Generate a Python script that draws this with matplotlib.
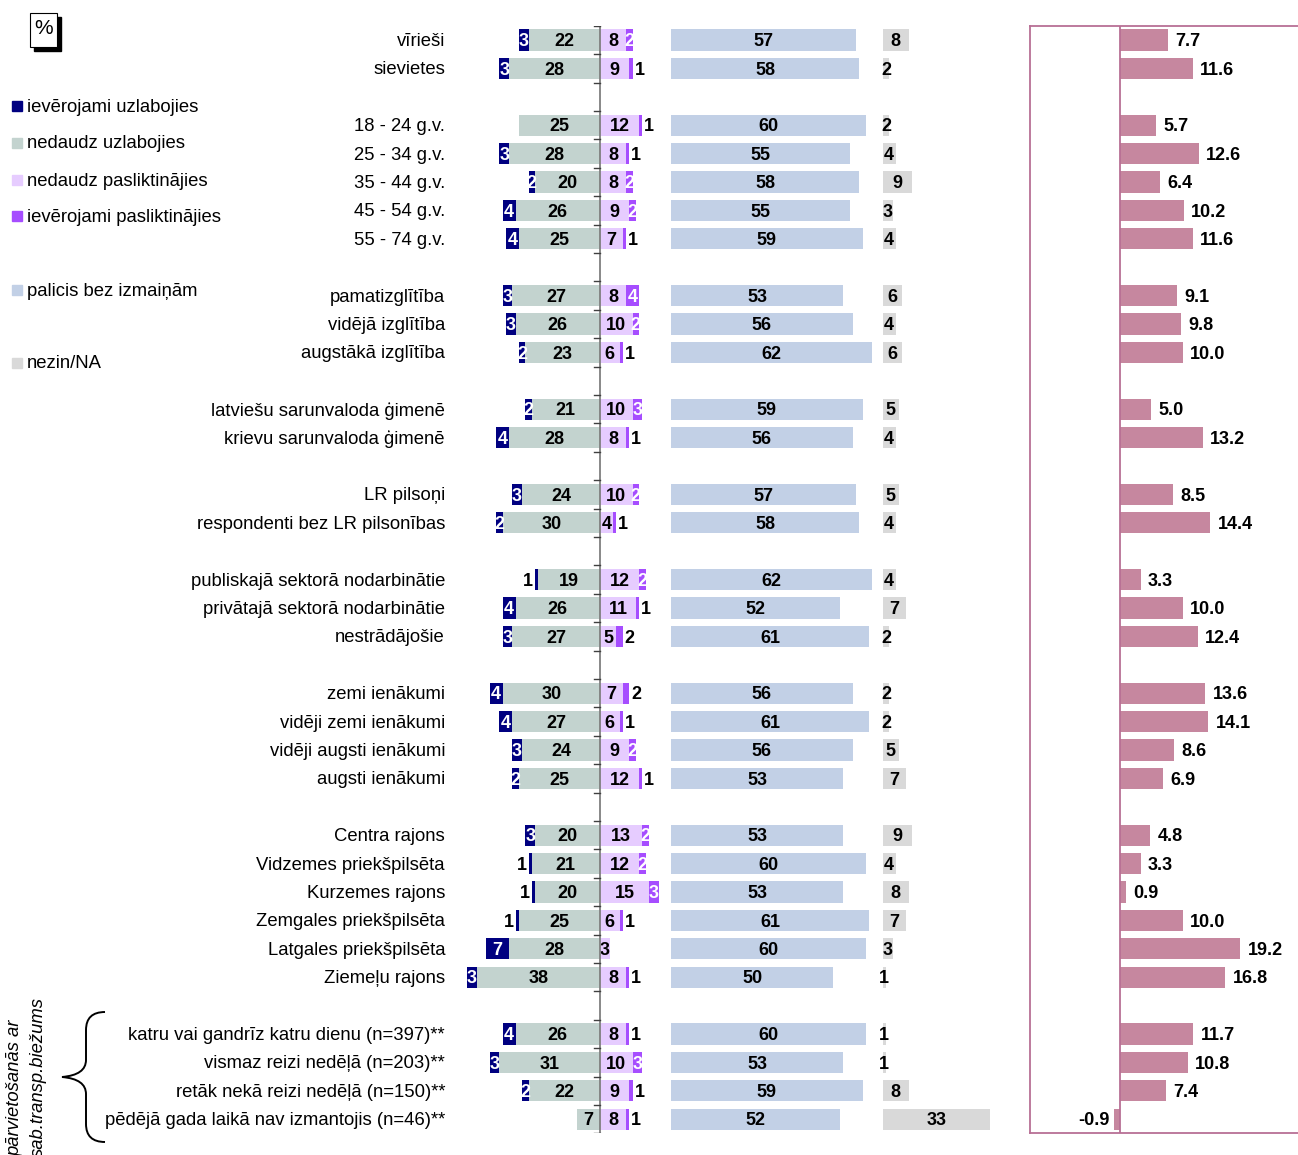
import matplotlib
matplotlib.use('Agg')
import matplotlib.pyplot as plt
from matplotlib.patches import Rectangle, PathPatch
from matplotlib.path import Path

plt.rcParams['font.family'] = ['Liberation Sans', 'DejaVu Sans']

W, H = 1298, 1155

# ── Data ──────────────────────────────────────────────────
labels = [
    'vīrieši', 'sievietes', None,
    '18 - 24 g.v.', '25 - 34 g.v.', '35 - 44 g.v.', '45 - 54 g.v.', '55 - 74 g.v.', None,
    'pamatizglītība', 'vidējā izglītība', 'augstākā izglītība', None,
    'latviešu sarunvaloda ģimenē', 'krievu sarunvaloda ģimenē', None,
    'LR pilsoņi', 'respondenti bez LR pilsonības', None,
    'publiskajā sektorā nodarbinātie', 'privātajā sektorā nodarbinātie', 'nestrādājošie', None,
    'zemi ienākumi', 'vidēji zemi ienākumi', 'vidēji augsti ienākumi', 'augsti ienākumi', None,
    'Centra rajons', 'Vidzemes priekšpilsēta', 'Kurzemes rajons', 'Zemgales priekšpilsēta',
    'Latgales priekšpilsēta', 'Ziemeļu rajons', None,
    'katru vai gandrīz katru dienu (n=397)**', 'vismaz reizi nedēļā (n=203)**',
    'retāk nekā reizi nedēļā (n=150)**', 'pēdējā gada laikā nav izmantojis (n=46)**',
]
much_better = [3, 3, None, 0, 3, 2, 4, 4, None, 3, 3, 2, None, 2, 4, None, 3, 2, None,
               1, 4, 3, None, 4, 4, 3, 2, None, 3, 1, 1, 1, 7, 3, None, 4, 3, 2, 0]
bit_better = [22, 28, None, 25, 28, 20, 26, 25, None, 27, 26, 23, None, 21, 28, None, 24, 30, None,
              19, 26, 27, None, 30, 27, 24, 25, None, 20, 21, 20, 25, 28, 38, None, 26, 31, 22, 7]
bit_worse = [8, 9, None, 12, 8, 8, 9, 7, None, 8, 10, 6, None, 10, 8, None, 10, 4, None,
             12, 11, 5, None, 7, 6, 9, 12, None, 13, 12, 15, 6, 3, 8, None, 8, 10, 9, 8]
much_worse = [2, 1, None, 1, 1, 2, 2, 1, None, 4, 2, 1, None, 3, 1, None, 2, 1, None,
              2, 1, 2, None, 2, 1, 2, 1, None, 2, 2, 3, 1, 0, 1, None, 1, 3, 1, 1]
unchanged = [57, 58, None, 60, 55, 58, 55, 59, None, 53, 56, 62, None, 59, 56, None, 57, 58, None,
             62, 52, 61, None, 56, 61, 56, 53, None, 53, 60, 53, 61, 60, 50, None, 60, 53, 59, 52]
dont_know = [8, 2, None, 2, 4, 9, 3, 4, None, 6, 4, 6, None, 5, 4, None, 5, 4, None,
             4, 7, 2, None, 2, 2, 5, 7, None, 9, 4, 8, 7, 3, 1, None, 1, 1, 8, 33]
balance = [7.7, 11.6, None, 5.7, 12.6, 6.4, 10.2, 11.6, None, 9.1, 9.8, 10.0, None, 5.0, 13.2, None,
           8.5, 14.4, None, 3.3, 10.0, 12.4, None, 13.6, 14.1, 8.6, 6.9, None,
           4.8, 3.3, 0.9, 10.0, 19.2, 16.8, None, 11.7, 10.8, 7.4, -0.9]
# rows whose "ievērojami pasliktinājies" label sits outside the bar
worse_outside = {'nestrādājošie', 'zemi ienākumi'}

legend_names = ['ievērojami uzlabojies', 'nedaudz uzlabojies', 'nedaudz pasliktinājies',
                'ievērojami pasliktinājies', 'palicis bez izmaiņām', 'nezin/NA']

# ── Colours ───────────────────────────────────────────────
NAVY = '#000080'
SAGE = '#c3d3cf'
LAV = '#e6ccff'
PURP = '#a64dff'
BLUE = '#c2d0e6'
GREY = '#d9d9d9'
PINK = '#c6879f'
FRAME = '#b86f95'

FS = 13.3
VFS = 13
BLUE_OFF = 21.8
NA_OFF = 87.0
BH = 0.75
DY = 0.06   # small downward nudge of text


def fx(px):
    return px / W


def fy(py):
    return 1 - py / H


fig = plt.figure(figsize=(W / 100, H / 100), dpi=100)
n = len(labels)
top, bot = 25.8, 1133.4

# ── Main axes (diverging + unchanged + NA) ────────────────
ax = fig.add_axes([fx(450), fy(bot), fx(1010) - fx(450), fy(top) - fy(bot)])
ax.set_xlim(-150 / 3.25, 410 / 3.25)
ax.set_ylim(n - 0.5, -0.5)
ax.axis('off')

for i, lab in enumerate(labels):
    if lab is None:
        continue
    mb, bb, bw, mw = much_better[i], bit_better[i], bit_worse[i], much_worse[i]
    un, dk = unchanged[i], dont_know[i]
    ax.barh(i, -bb, height=BH, color=SAGE, linewidth=0)
    ax.barh(i, -mb, left=-bb, height=BH, color=NAVY, linewidth=0)
    ax.barh(i, bw, height=BH, color=LAV, linewidth=0)
    ax.barh(i, mw, left=bw, height=BH, color=PURP, linewidth=0)
    ax.barh(i, un, left=BLUE_OFF, height=BH, color=BLUE, linewidth=0)
    ax.barh(i, dk, left=NA_OFF, height=BH, color=GREY, linewidth=0)

    y = i + DY
    kw = dict(va='center', fontsize=VFS, fontweight='bold')
    ax.text(-bb / 2, y, f'{bb}', ha='center', color='black', **kw)
    if mb >= 2:
        ax.text(-bb - mb / 2, y, f'{mb}', ha='center', color='white', **kw)
    elif mb == 1:
        ax.text(-bb - mb - 0.6, y, f'{mb}', ha='right', color='black', **kw)
    ax.text(bw / 2, y, f'{bw}', ha='center', color='black', **kw)
    if mw >= 2 and lab not in worse_outside:
        ax.text(bw + mw / 2, y, f'{mw}', ha='center', color='white', **kw)
    elif mw >= 1:
        ax.text(bw + mw + 0.6, y, f'{mw}', ha='left', color='black', **kw)
    ax.text(BLUE_OFF + un / 2, y, f'{un}', ha='center', color='black', **kw)
    ax.text(NA_OFF + dk / 2, y, f'{dk}', ha='center', color='black', **kw)

    fig.text(fx(445), fy(41.5 + 28.4 * i), lab, ha='right', va='center', fontsize=FS)

# centre axis with category ticks
ax.plot([0, 0], [-0.5, n - 0.5], color='#7f7f7f', lw=1.3, zorder=5)
for k in range(n + 1):
    ax.plot([-1.9, 0], [k - 0.5, k - 0.5], color='#404040', lw=1.0, zorder=5)

# ── Right panel (balance) ─────────────────────────────────
axr = fig.add_axes([fx(1030), fy(bot), 1 - fx(1030), fy(top) - fy(bot)])
axr.set_xlim((1030 - 1120) / 6.25, (1298 - 1120) / 6.25)
axr.set_ylim(n - 0.5, -0.5)
axr.set_xticks([])
axr.set_yticks([])
for s in ['left', 'top', 'bottom']:
    axr.spines[s].set_color(FRAME)
    axr.spines[s].set_linewidth(1.3)
axr.spines['right'].set_visible(False)
axr.axvline(0, color=FRAME, lw=1.3)
for i, v in enumerate(balance):
    if v is None:
        continue
    axr.barh(i, v, height=BH, color=PINK, linewidth=0)
    if v >= 0:
        axr.text(v + 1.2, i + DY, f'{v:.1f}', ha='left', va='center', fontsize=VFS,
                 fontweight='bold')
    else:
        axr.text(v - 0.8, i + DY, f'{v:.1f}', ha='right', va='center', fontsize=VFS,
                 fontweight='bold')

# ── Legend ────────────────────────────────────────────────
leg_cols = [NAVY, SAGE, LAV, PURP, BLUE, GREY]
leg_y = [106, 143, 180, 216, 290, 363]
for c, name, yy in zip(leg_cols, legend_names, leg_y):
    fig.patches.append(Rectangle((fx(12), fy(yy + 5)), fx(10), 10 / H, color=c,
                                 transform=fig.transFigure))
    fig.text(fx(27), fy(yy + 1), name, ha='left', va='center', fontsize=FS)

# ── "%" badge ─────────────────────────────────────────────
fig.patches.append(Rectangle((fx(34), fy(51)), fx(27), 34 / H, facecolor='black',
                             edgecolor='black', transform=fig.transFigure))
fig.patches.append(Rectangle((fx(30), fy(47)), fx(27), 34 / H, facecolor='white',
                             edgecolor='black', lw=0.8, transform=fig.transFigure))
fig.text(fx(43.5), fy(29), '%', ha='center', va='center', fontsize=15)

# ── Bracket + rotated caption ─────────────────────────────
pts = [(105, 1012), (86, 1012), (86, 1030), (86, 1060), (86, 1075), (62, 1077),
       (86, 1079), (86, 1094), (86, 1124), (86, 1142), (105, 1142)]
codes = [Path.MOVETO, Path.CURVE3, Path.CURVE3, Path.LINETO, Path.CURVE3, Path.CURVE3,
         Path.CURVE3, Path.CURVE3, Path.LINETO, Path.CURVE3, Path.CURVE3]
brace = Path([(fx(x), fy(y)) for x, y in pts], codes)
fig.patches.append(PathPatch(brace, facecolor='none', edgecolor='black', lw=1.4,
                             transform=fig.transFigure))
fig.text(fx(15), fy(1020), 'pārvietošanās ar', rotation=90, ha='center', va='top',
         fontsize=FS, style='italic')
fig.text(fx(38), fy(997), 'sab.transp.biežums', rotation=90, ha='center', va='top',
         fontsize=FS, style='italic')

fig.savefig('out.png', dpi=100)
